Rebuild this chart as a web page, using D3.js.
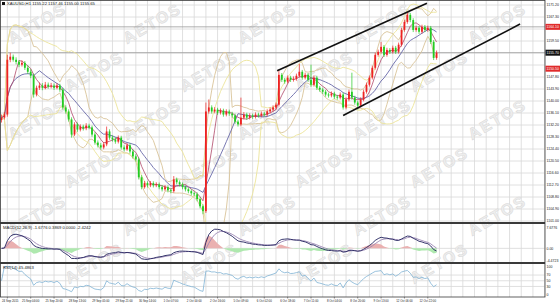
<!DOCTYPE html>
<html>
<head>
<meta charset="utf-8">
<script src="https://cdn.jsdelivr.net/npm/d3@7"></script>
<style>
  body { margin: 0; background: #fff; }
  svg { display: block; }
  text { font-family: "Liberation Sans", Arial, sans-serif; }
</style>
</head>
<body>
<div id="chart"></div>
<script>
// XAUUSD candles, [open, high, low, close]
const candles = [
  [1133.8,1135.6,1133.0,1134.6],[1134.6,1136.4,1134.0,1135.6],[1135.6,1155.0,1134.9,1153.4],[1153.4,1155.7,1152.6,1154.4],
  [1154.4,1155.1,1152.8,1153.4],[1153.4,1154.2,1151.9,1152.7],[1152.7,1153.3,1151.0,1151.8],[1151.8,1153.2,1151.2,1152.4],
  [1152.4,1153.0,1150.1,1150.8],[1150.8,1151.6,1148.8,1149.5],[1149.5,1150.3,1147.4,1148.2],[1148.2,1148.9,1141.1,1142.1],
  [1142.1,1145.0,1141.5,1144.3],[1144.3,1146.0,1143.6,1145.0],[1145.0,1145.8,1143.5,1144.3],[1144.3,1146.2,1143.8,1145.3],
  [1145.3,1146.0,1144.0,1144.7],[1144.7,1145.9,1144.1,1145.0],[1145.0,1145.7,1143.6,1144.3],[1144.3,1145.8,1143.8,1145.0],
  [1145.0,1145.6,1143.0,1143.7],[1143.7,1144.3,1137.2,1137.9],[1137.9,1138.6,1135.9,1136.6],[1136.6,1137.3,1133.3,1134.0],
  [1134.0,1134.7,1128.1,1129.1],[1129.1,1133.1,1128.6,1132.4],[1132.4,1133.0,1130.0,1130.7],[1130.7,1132.4,1130.1,1131.7],
  [1131.7,1132.3,1130.4,1131.1],[1131.1,1132.8,1130.5,1132.0],[1132.0,1132.6,1130.8,1131.4],[1131.4,1132.0,1128.4,1129.1],
  [1129.1,1129.8,1125.8,1126.5],[1126.5,1127.2,1124.9,1125.6],[1125.6,1126.3,1124.2,1124.9],[1124.9,1126.6,1124.3,1125.9],
  [1125.9,1131.7,1125.3,1130.1],[1130.1,1130.8,1127.4,1128.1],[1128.1,1128.8,1126.8,1127.5],[1127.5,1128.2,1126.1,1126.8],
  [1126.8,1128.8,1126.2,1128.1],[1128.1,1128.7,1124.2,1124.9],[1124.9,1125.6,1123.6,1124.3],[1124.3,1126.3,1123.8,1125.6],
  [1125.6,1126.2,1122.9,1123.6],[1123.6,1124.3,1121.3,1122.0],[1122.0,1122.7,1120.3,1121.0],[1121.0,1121.6,1114.5,1115.2],
  [1115.2,1115.9,1111.3,1112.0],[1112.0,1114.0,1111.5,1113.3],[1113.3,1113.9,1111.9,1112.6],[1112.6,1114.0,1112.0,1113.3],
  [1113.3,1113.9,1111.9,1112.6],[1112.6,1113.6,1112.0,1112.9],[1112.9,1113.5,1111.3,1112.0],[1112.0,1112.7,1110.6,1111.3],
  [1111.3,1112.7,1110.8,1112.0],[1112.0,1112.6,1110.3,1111.0],[1111.0,1111.6,1110.0,1110.7],[1110.7,1115.6,1110.2,1114.5],
  [1114.5,1115.1,1112.9,1113.6],[1113.6,1114.2,1112.2,1112.9],[1112.9,1113.5,1111.3,1112.0],[1112.0,1112.6,1110.6,1111.3],
  [1111.3,1111.9,1110.0,1110.7],[1110.7,1111.3,1109.3,1110.0],[1110.0,1110.6,1109.0,1109.7],[1109.7,1110.3,1107.4,1108.1],
  [1108.1,1108.7,1105.1,1105.8],[1105.8,1106.4,1103.2,1104.2],[1104.2,1139.5,1103.6,1136.6],[1136.6,1140.5,1135.9,1137.9],
  [1137.9,1138.6,1135.9,1136.6],[1136.6,1138.0,1136.0,1137.2],[1137.2,1137.8,1135.5,1136.2],[1136.2,1137.6,1135.6,1136.9],
  [1136.9,1137.5,1134.9,1135.6],[1135.6,1137.3,1135.0,1136.6],[1136.6,1137.2,1135.2,1135.9],[1135.9,1136.5,1134.6,1135.3],
  [1135.3,1135.9,1132.6,1133.3],[1133.3,1133.9,1131.7,1132.4],[1132.4,1141.1,1131.8,1134.6],[1134.6,1136.4,1134.0,1135.6],
  [1135.6,1136.2,1133.9,1134.6],[1134.6,1136.0,1134.0,1135.3],[1135.3,1135.9,1134.2,1134.9],[1134.9,1136.3,1134.3,1135.6],
  [1135.6,1136.2,1134.6,1135.3],[1135.3,1136.6,1134.7,1135.9],[1135.9,1136.5,1134.9,1135.6],[1135.6,1137.3,1135.0,1136.6],
  [1136.6,1137.9,1136.0,1137.2],[1137.2,1138.6,1136.6,1137.9],[1137.9,1139.5,1137.3,1138.8],[1138.8,1150.2,1138.2,1148.5],
  [1148.5,1149.1,1146.2,1146.9],[1146.9,1147.5,1145.6,1146.3],[1146.3,1148.3,1145.7,1147.6],[1147.6,1148.2,1146.2,1146.9],
  [1146.9,1148.0,1146.3,1147.2],[1147.2,1148.9,1146.6,1148.2],[1148.2,1152.1,1147.6,1149.5],[1149.5,1150.1,1146.9,1147.6],
  [1147.6,1149.2,1147.0,1148.5],[1148.5,1149.1,1146.2,1146.9],[1146.9,1151.8,1144.6,1145.3],[1145.3,1148.3,1144.7,1147.6],
  [1147.6,1148.2,1143.6,1144.3],[1144.3,1144.9,1143.0,1143.7],[1143.7,1144.3,1142.3,1143.0],[1143.0,1143.6,1141.4,1142.1],
  [1142.1,1142.7,1141.1,1141.8],[1141.8,1143.1,1141.2,1142.4],[1142.4,1143.0,1140.7,1141.4],[1141.4,1142.0,1140.4,1141.1],
  [1141.1,1142.8,1140.5,1142.1],[1142.1,1142.7,1137.2,1137.9],[1137.9,1141.2,1137.3,1140.5],[1140.5,1143.7,1139.9,1143.0],
  [1143.0,1149.2,1140.4,1141.1],[1141.1,1141.7,1138.8,1139.5],[1139.5,1140.1,1137.2,1138.5],[1138.5,1141.2,1137.9,1140.5],
  [1140.5,1143.7,1139.9,1143.0],[1143.0,1146.0,1142.4,1145.3],[1145.3,1148.3,1144.7,1147.6],[1147.6,1151.5,1147.0,1150.8],
  [1150.8,1155.7,1150.2,1155.0],[1155.0,1156.7,1154.4,1156.0],[1156.0,1159.2,1155.4,1157.6],[1157.6,1158.2,1154.3,1155.0],
  [1155.0,1157.3,1154.4,1156.6],[1156.6,1157.2,1155.3,1156.0],[1156.0,1158.0,1155.4,1157.3],[1157.3,1157.9,1155.3,1156.0],
  [1156.0,1159.0,1155.4,1158.3],[1158.3,1163.8,1157.7,1163.1],[1163.1,1166.4,1162.5,1165.7],[1165.7,1168.9,1165.1,1168.0],
  [1168.0,1168.6,1165.6,1166.3],[1166.3,1166.9,1162.4,1163.1],[1163.1,1164.5,1162.5,1163.8],[1163.8,1164.4,1161.8,1162.5],
  [1162.5,1164.8,1161.9,1164.1],[1164.1,1164.7,1162.4,1163.1],[1163.1,1164.5,1162.5,1163.8],[1163.8,1164.4,1158.5,1159.2],
  [1159.2,1159.8,1153.3,1154.0],[1154.0,1156.4,1153.4,1155.7]
];

const timeLabels = ["24 Sep 2015","25 Sep 04:00","25 Sep 20:00","28 Sep 13:00","29 Sep 05:00","29 Sep 21:00",
  "30 Sep 14:00","1 Oct 07:00","2 Oct 00:00","2 Oct 16:00","5 Oct 09:00","6 Oct 02:00","6 Oct 18:00",
  "7 Oct 11:00","8 Oct 04:00","8 Oct 20:00","9 Oct 13:00","12 Oct 06:00","12 Oct 22:00"];

const priceTicks = [1171.20,1167.30,1163.40,1159.50,1155.60,1151.70,1147.80,1143.90,1140.00,1136.10,
  1132.20,1128.30,1124.40,1120.50,1116.60,1112.70,1108.80,1104.90,1101.00];

const markedPrices = [1164.10, 1150.50];   // red tags
const channelLines = [
  [[94.4, 1149.8], [145.7, 1171.8]],
  [[117.0, 1135.3], [177.6, 1165.0]]
];
const macdTicks = [7.6776, 0, -4.4723];
const rsiTicks = [100, 70, 50, 30, 0];
const titleText = "XAUUSD,H1  1155.22 1157.46 1155.00 1155.65";
const macdText = "MACD(12,26,9) -1.6776 0.3869 0.0000 -2.4242";
const rsiText = "RSI(14) 45.4863";

// ---- indicators ----
const closes = candles.map(d => d[3]);
function sma(v, n) {
  return v.map((_, i) => d3.mean(v.slice(Math.max(0, i - n + 1), i + 1)));
}
function bands(v, n, k) {
  return v.map((_, i) => {
    const w = v.slice(Math.max(0, i - n + 1), i + 1);
    const m = d3.mean(w);
    const s = Math.sqrt(d3.mean(w, x => (x - m) * (x - m)));
    return [m + k * s, m - k * s];
  });
}
function ema(v, n) {
  const a = 2 / (n + 1), out = [v[0]];
  for (let i = 1; i < v.length; i++) out.push(out[i - 1] + a * (v[i] - out[i - 1]));
  return out;
}
const maFast = sma(closes, 5), maSlow = sma(closes, 12);
const bbTan = bands(closes, 10, 2), bbYellow = bands(closes, 20, 2);
const eFast = ema(closes, 6), eSlow = ema(closes, 13);
const macd = eFast.map((d, i) => d - eSlow[i]);
const signal = ema(macd, 4);
const hist = macd.map((d, i) => 1.5 * (d - signal[i]));
const rsi = [50];
{
  let g = 0, l = 0;
  for (let i = 1; i < closes.length; i++) {
    const ch = closes[i] - closes[i - 1];
    g = g + (Math.max(ch, 0) - g) / 7;
    l = l + (Math.max(-ch, 0) - l) / 7;
    rsi.push(l === 0 ? 100 : 100 - 100 / (1 + g / l));
  }
}

// ---- layout ----
const width = 560, height = 305, plotRight = 545;
const mainPane = [0, 223], macdPane = [223, 263], rsiPane = [263, 297];

const svg = d3.select("#chart").append("svg").attr("width", width).attr("height", height);

const x = d3.scaleLinear().domain([0, 186]).range([1.5, 544.6]);
const y = d3.scaleLinear().domain([1101.0, 1171.2]).range([221, 5]);
const yMacd = d3.scaleLinear().domain([-4.4723, 7.6776]).range([260.5, 227.5]);
const yRsi = d3.scaleLinear().domain([0, 100]).range([295, 266.5]);

const defs = svg.append("defs");
[["clipMain", mainPane], ["clipMacd", macdPane], ["clipRsi", rsiPane]].forEach(([id, p]) => {
  defs.append("clipPath").attr("id", id).append("rect")
    .attr("x", 0).attr("y", p[0]).attr("width", plotRight).attr("height", p[1] - p[0]);
});

// grid
const gridIdx = d3.range(2, 187, 4);
const grid = svg.append("g").attr("stroke", "#d8d8d8").attr("stroke-width", 0.8);
gridIdx.forEach(i => {
  grid.append("line").attr("x1", x(i)).attr("x2", x(i)).attr("y1", 0).attr("y2", rsiPane[1]);
});
priceTicks.forEach(p => {
  grid.append("line").attr("x1", 0).attr("x2", plotRight).attr("y1", y(p)).attr("y2", y(p));
});
[70, 50, 30].forEach(v => {
  grid.append("line").attr("x1", 0).attr("x2", plotRight).attr("y1", yRsi(v)).attr("y2", yRsi(v));
});
grid.append("line").attr("x1", 0).attr("x2", plotRight).attr("y1", yMacd(0)).attr("y2", yMacd(0));

// watermark
const wm = svg.append("g").attr("fill", "#eeeeee").attr("stroke", "#d9d9d9").attr("stroke-width", 0.5)
  .attr("font-size", 16).attr("font-weight", "bold").attr("letter-spacing", 2);
for (let r = 0; r < 6; r++) {
  for (let c = 0; c < 5; c++) {
    const cx = 40 + c * 115 + (r % 2) * 57, cy = 28 + r * 48;
    if (cx > 510) continue;
    wm.append("text").attr("text-anchor", "middle")
      .attr("transform", `translate(${cx},${cy}) rotate(-30)`).text("AETOS");
  }
}

// price reference lines
const main = svg.append("g").attr("clip-path", "url(#clipMain)");
const lastClose = closes[closes.length - 1];
[markedPrices[0], lastClose].forEach(p => {
  main.append("line").attr("x1", 0).attr("x2", plotRight).attr("y1", y(p)).attr("y2", y(p))
    .attr("stroke", "#9a9a9a").attr("stroke-width", 0.8);
});

// bands and moving averages
const line = (vals, ys) => d3.line().x((_, i) => x(i)).y(d => ys(d))(vals);
[[bbTan, "#d9c49a"], [bbYellow, "#ece49a"]].forEach(([b, col]) => {
  [0, 1].forEach(k => {
    main.append("path").attr("d", line(b.map(d => d[k]), y))
      .attr("fill", "none").attr("stroke", col).attr("stroke-width", 0.9);
  });
});
main.append("path").attr("d", line(maSlow, y)).attr("fill", "none").attr("stroke", "#6868a8").attr("stroke-width", 0.9);
main.append("path").attr("d", line(maFast, y)).attr("fill", "none").attr("stroke", "#b04868").attr("stroke-width", 0.8);

// candles
const upCol = "#ee2222", downCol = "#22cc22";
const cg = main.append("g").selectAll("g").data(candles).join("g")
  .attr("stroke", d => d[3] >= d[0] ? upCol : downCol)
  .attr("fill", d => d[3] >= d[0] ? upCol : downCol);
cg.append("line")
  .attr("x1", (_, i) => x(i)).attr("x2", (_, i) => x(i))
  .attr("y1", d => y(d[1])).attr("y2", d => y(d[2])).attr("stroke-width", 0.7);
cg.append("rect")
  .attr("x", (_, i) => x(i) - 0.9).attr("width", 1.8)
  .attr("y", d => y(Math.max(d[0], d[3])))
  .attr("height", d => Math.max(0.7, Math.abs(y(d[0]) - y(d[3]))))
  .attr("stroke", "none");

// channel
channelLines.forEach(seg => {
  main.append("line")
    .attr("x1", x(seg[0][0])).attr("y1", y(seg[0][1]))
    .attr("x2", x(seg[1][0])).attr("y2", y(seg[1][1]))
    .attr("stroke", "#111").attr("stroke-width", 1.6);
});

// MACD pane
const mg = svg.append("g").attr("clip-path", "url(#clipMacd)");
const areaFor = f => d3.area().x((_, i) => x(i)).y0(yMacd(0)).y1(d => yMacd(f(d)))(hist);
mg.append("path").attr("d", areaFor(d => Math.max(d, 0))).attr("fill", "#eab0b0");
mg.append("path").attr("d", areaFor(d => Math.min(d, 0))).attr("fill", "#aee8ae");
mg.append("path").attr("d", line(signal, yMacd)).attr("fill", "none").attr("stroke", "#9c88b4").attr("stroke-width", 0.9);
mg.append("path").attr("d", line(macd, yMacd)).attr("fill", "none").attr("stroke", "#23235e").attr("stroke-width", 0.9);

// RSI pane
const rg = svg.append("g").attr("clip-path", "url(#clipRsi)");
rg.append("path").attr("d", line(rsi, yRsi)).attr("fill", "none").attr("stroke", "#7fb2d4").attr("stroke-width", 0.8);

// pane borders
const frame = svg.append("g").attr("stroke", "#3a3a3a");
frame.append("rect").attr("x", 0.5).attr("y", 0.5).attr("width", plotRight - 0.5).attr("height", rsiPane[1] - 0.5)
  .attr("fill", "none").attr("stroke-width", 0.8);
[mainPane[1], macdPane[1]].forEach(v => {
  frame.append("line").attr("x1", 0).attr("x2", plotRight).attr("y1", v).attr("y2", v).attr("stroke-width", 1.8);
});

// right axis labels
const ax = svg.append("g").attr("font-size", 4.2).attr("fill", "#222");
const axR = svg.append("g").attr("font-size", 3.5).attr("fill", "#222");
const tagged = markedPrices.concat([lastClose]);
priceTicks.forEach(p => {
  if (tagged.some(t => Math.abs(y(t) - y(p)) < 5.5)) return;
  axR.append("text").attr("x", 546.5).attr("y", y(p)).attr("dy", "0.35em").text(p.toFixed(2));
});
const tag = (p, col) => {
  axR.append("rect").attr("x", 545.5).attr("y", y(p) - 3).attr("width", 14.5).attr("height", 6).attr("fill", col);
  axR.append("text").attr("x", 546.5).attr("y", y(p)).attr("dy", "0.35em").attr("fill", "#fff").text(p.toFixed(2));
};
markedPrices.forEach(p => tag(p, "#e02b2b"));
tag(lastClose, "#111");
macdTicks.forEach(v => {
  axR.append("text").attr("x", 546.5).attr("y", yMacd(v)).attr("dy", "0.35em").text(v === 0 ? "0.00" : v.toFixed(4));
});
rsiTicks.forEach(v => {
  axR.append("text").attr("x", 546.5).attr("y", yRsi(v)).attr("dy", "0.35em").text(v);
});

// time axis
const axT = svg.append("g").attr("font-size", 2.9).attr("fill", "#222");
timeLabels.forEach((t, k) => {
  const i = 2 + k * 8;
  axT.append("line").attr("x1", x(i)).attr("x2", x(i)).attr("y1", rsiPane[1]).attr("y2", rsiPane[1] + 1.5)
    .attr("stroke", "#444").attr("stroke-width", 0.6);
  axT.append("text").attr("x", k === 0 ? 2 : x(i)).attr("y", 301.3).attr("text-anchor", k === 0 ? "start" : "middle")
    .attr("dy", "0.35em").text(t);
});

// headers
ax.append("rect").attr("x", 2).attr("y", 2).attr("width", 3).attr("height", 3).attr("fill", "#111");
ax.append("text").attr("x", 7).attr("y", 3.8).attr("dy", "0.35em").text(titleText);
ax.append("text").attr("x", 3).attr("y", 227.5).attr("dy", "0.35em").text(macdText);
ax.append("text").attr("x", 3).attr("y", 267.2).attr("dy", "0.35em").text(rsiText);
</script>
</body>
</html>
